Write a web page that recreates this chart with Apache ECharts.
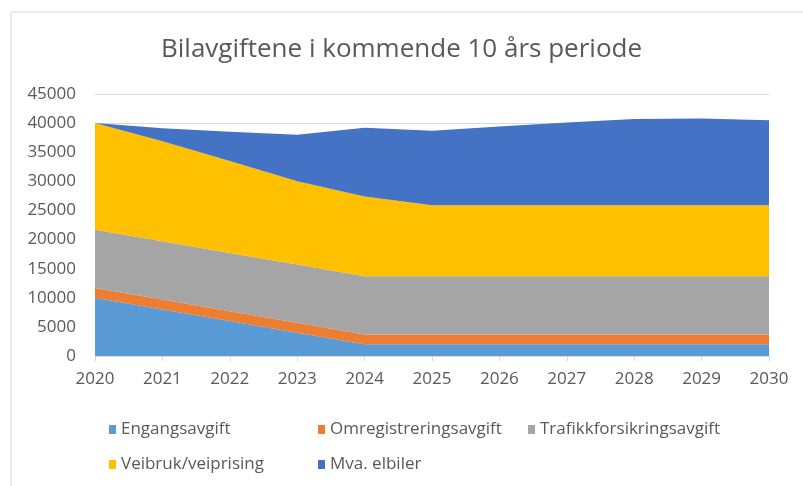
<!DOCTYPE html>
<html>
<head>
<meta charset="utf-8">
<script src="https://cdn.jsdelivr.net/npm/echarts@6/dist/echarts.min.js"></script>
<style>
html, body { margin: 0; padding: 0; background: #fff; }
#chart { width: 803px; height: 486px; }
</style>
</head>
<body>
<div id="chart"></div>
<script>
var years = ['2020', '2021', '2022', '2023', '2024', '2025', '2026', '2027', '2028', '2029', '2030'];
var engangsavgift = [10000, 8000, 6000, 4000, 2000, 2000, 2000, 2000, 2000, 2000, 2000];
var omregistrering = [1700, 1700, 1700, 1700, 1700, 1700, 1700, 1700, 1700, 1700, 1700];
var trafikkforsikring = [10000, 10000, 10000, 10000, 10000, 10000, 10000, 10000, 10000, 10000, 10000];
var veibruk = [18300, 17200, 15800, 14300, 13700, 12200, 12200, 12200, 12200, 12200, 12200];
var mvaElbiler = [0, 2200, 5000, 8000, 11800, 12800, 13500, 14200, 14800, 14900, 14600];

var font = 'Open Sans';
var textColor = '#595959';

function area(name, data, color) {
	return {
		name: name,
		type: 'line',
		stack: 'total',
		data: data,
		showSymbol: false,
		symbol: 'none',
		lineStyle: { width: 0 },
		itemStyle: { color: color },
		areaStyle: { color: color, opacity: 1 }
	};
}

function leg(name, left, top) {
	return {
		data: [name],
		left: left,
		top: top,
		itemWidth: 7,
		itemHeight: 9,
		itemGap: 0,
		icon: 'rect',
		textStyle: { color: textColor, fontFamily: font, fontSize: 17 }
	};
}

var myChart = echarts.init(document.getElementById('chart'));
var option = {
	animation: false,
	backgroundColor: '#fff',
	graphic: [{
		type: 'rect',
		shape: { x: 11, y: 12, width: 830, height: 520 },
		style: { fill: 'none', stroke: '#d9d9d9', lineWidth: 1 }
	}],
	title: {
		text: 'Bilavgiftene i kommende 10 års periode',
		left: 'center',
		top: 32,
		textStyle: { color: textColor, fontFamily: font, fontSize: 26, fontWeight: 'normal' }
	},
	legend: [
		leg('Engangsavgift', 104, 416),
		leg('Omregistreringsavgift', 313, 416),
		leg('Trafikkforsikringsavgift', 523, 416),
		leg('Veibruk/veiprising', 104, 451),
		leg('Mva. elbiler', 313, 451)
	],
	grid: { left: 95, right: 34, top: 94, bottom: 130 },
	xAxis: {
		type: 'category',
		data: years,
		boundaryGap: false,
		axisLine: { lineStyle: { color: '#d9d9d9' } },
		axisTick: { alignWithLabel: true, length: 5, lineStyle: { color: '#d9d9d9' } },
		axisLabel: { color: textColor, fontFamily: font, fontSize: 17, margin: 15 }
	},
	yAxis: {
		type: 'value',
		min: 0,
		max: 45000,
		interval: 5000,
		axisLine: { show: false },
		axisTick: { show: false },
		splitLine: { lineStyle: { color: '#d9d9d9' } },
		axisLabel: {
			color: textColor, fontFamily: font, fontSize: 17, margin: 19,
			formatter: function(v) { return String(v); }
		}
	},
	series: [
		area('Engangsavgift', engangsavgift, '#5b9bd5'),
		area('Omregistreringsavgift', omregistrering, '#ed7d31'),
		area('Trafikkforsikringsavgift', trafikkforsikring, '#a5a5a5'),
		area('Veibruk/veiprising', veibruk, '#ffc000'),
		area('Mva. elbiler', mvaElbiler, '#4472c4')
	]
};
myChart.setOption(option);
</script>
</body>
</html>
